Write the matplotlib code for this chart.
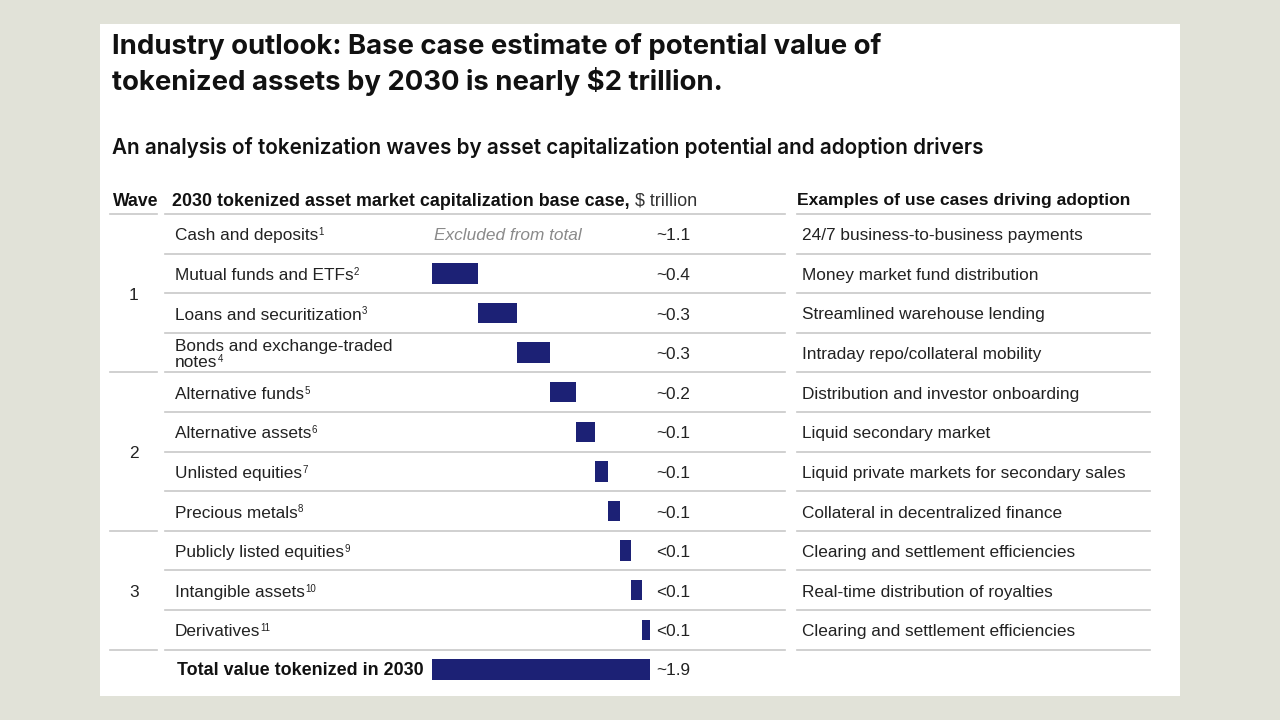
import matplotlib.pyplot as plt
from matplotlib.patches import Rectangle

plt.rcParams['font.family'] = ['Liberation Sans', 'DejaVu Sans']
HEAD_FONT = ['Inter', 'Liberation Sans', 'DejaVu Sans']

# ---- data ----
asset_labels = ["Cash and deposits", "Mutual funds and ETFs", "Loans and securitization",
                "Bonds and exchange-traded\nnotes", "Alternative funds", "Alternative assets",
                "Unlisted equities", "Precious metals", "Publicly listed equities",
                "Intangible assets", "Derivatives"]
footnotes = ["1", "2", "3", "4", "5", "6", "7", "8", "9", "10", "11"]
waves = [1, 1, 1, 1, 2, 2, 2, 2, 3, 3, 3]
values = [1.1, 0.40, 0.34, 0.28, 0.23, 0.16, 0.12, 0.10, 0.095, 0.095, 0.07]
included = [False, True, True, True, True, True, True, True, True, True, True]
value_labels = ["~1.1", "~0.4", "~0.3", "~0.3", "~0.2", "~0.1", "~0.1", "~0.1",
                "<0.1", "<0.1", "<0.1"]
use_cases = ["24/7 business-to-business payments", "Money market fund distribution",
             "Streamlined warehouse lending", "Intraday repo/collateral mobility",
             "Distribution and investor onboarding", "Liquid secondary market",
             "Liquid private markets for secondary sales", "Collateral in decentralized finance",
             "Clearing and settlement efficiencies", "Real-time distribution of royalties",
             "Clearing and settlement efficiencies"]
total_label = "Total value tokenized in 2030"
total_value_label = "~1.9"

NAVY = '#1c2175'
TXT = '#222222'
RULE = '#c8c8c8'

W, H = 1280, 720
fig = plt.figure(figsize=(12.8, 7.2), dpi=100, facecolor='#e1e2d8')
ax = fig.add_axes([0, 0, 1, 1])
ax.set_xlim(0, W)
ax.set_ylim(H, 0)
ax.axis('off')
ax.add_patch(Rectangle((100, 24), 1080, 672, facecolor='white', edgecolor='none', zorder=0))

# titles
ax.text(112, 46, "Industry outlook: Base case estimate of potential value of",
        fontsize=19.8, fontweight='bold', color='#111111', va='center', family=HEAD_FONT)
ax.text(112, 81, "tokenized assets by 2030 is nearly $2 trillion.",
        fontsize=19.8, fontweight='bold', color='#111111', va='center', family=HEAD_FONT)
ax.text(112, 147, "An analysis of tokenization waves by asset capitalization potential and adoption drivers",
        fontsize=14.9, fontweight='semibold', color='#111111', va='center', family=HEAD_FONT)

# table geometry
top = 214
row_h = 39.6
n = len(asset_labels)
dy = 2  # text sits a touch below the geometric row centre


def row_y(i):
    return top + (i + 0.5) * row_h


# headers
hy = 201
ax.text(113, hy, "Wave", fontsize=12.7, fontweight='bold', color='#111111', va='center')
h2 = ax.text(172, hy, "2030 tokenized asset market capitalization base case,", fontsize=12.9,
             fontweight='bold', color='#111111', va='center')
ax.annotate(" $ trillion", xy=(1, 0), xycoords=h2, va='bottom', ha='left',
            fontsize=12.9, color='#333333')
ax.text(797, hy, "Examples of use cases driving adoption", fontsize=12.6,
        fontweight='bold', color='#111111', va='center')

# rules
ax.plot([110, 157], [top, top], color=RULE, lw=1.2)
for k in range(n + 1):
    y = top + k * row_h
    ax.plot([165, 785], [y, y], color=RULE, lw=1.2)
    ax.plot([797, 1150], [y, y], color=RULE, lw=1.2)
for k in range(1, n + 1):
    if k == n or waves[k] != waves[k - 1]:
        y = top + k * row_h
        ax.plot([110, 157], [y, y], color=RULE, lw=1.2)

# wave numbers
for w in sorted(set(waves)):
    idx = [i for i in range(n) if waves[i] == w]
    yc = (row_y(idx[0]) + row_y(idx[-1])) / 2 + dy
    ax.text(134, yc, str(w), fontsize=12.4, color=TXT, ha='center', va='center')

# row labels
for i in range(n):
    lines = asset_labels[i].split('\n')
    yc = row_y(i) + dy
    gap = 16
    y0 = yc - gap * (len(lines) - 1) / 2
    t = None
    for j, line in enumerate(lines):
        t = ax.text(175, y0 + j * gap, line, fontsize=12.4, color=TXT, va='center')
    ax.annotate(footnotes[i], xy=(1, 1), xycoords=t, xytext=(0.2, 0.8),
                textcoords='offset points', va='top', ha='left', fontsize=7, color=TXT)
    ax.text(656, yc, value_labels[i], fontsize=12.4, color=TXT, va='center')
    ax.text(802, yc, use_cases[i], fontsize=12.4, color=TXT, va='center')
    if not included[i]:
        ax.text(434, yc, "Excluded from total", fontsize=12.4, color='#8a8a8a',
                style='italic', va='center')

# total row
ty = row_y(n) + 1
ax.text(177, ty, total_label, fontsize=12.9, fontweight='bold', color='#111111', va='center')
ax.text(656, ty, total_value_label, fontsize=12.4, color=TXT, va='center')

# waterfall bars in their own axes (x in $ trillion, y in rows)
px_per_t = 115.3
bx0 = 432
bw = 2.0 * px_per_t
bax = fig.add_axes([bx0 / W, 1 - (top + (n + 1) * row_h) / H, bw / W, (n + 1) * row_h / H])
bax.set_xlim(0, 2.0)
bax.set_ylim(n + 1, 0)
bax.axis('off')
bax.patch.set_alpha(0)

left = 0.0
for i in range(n):
    if included[i]:
        bax.barh(i + 0.5, values[i], left=left, height=0.52, color=NAVY)
        left += values[i]
bax.barh(n + 0.5, left, left=0, height=0.54, color=NAVY)

fig.savefig('out.png', dpi=100, facecolor=fig.get_facecolor())
